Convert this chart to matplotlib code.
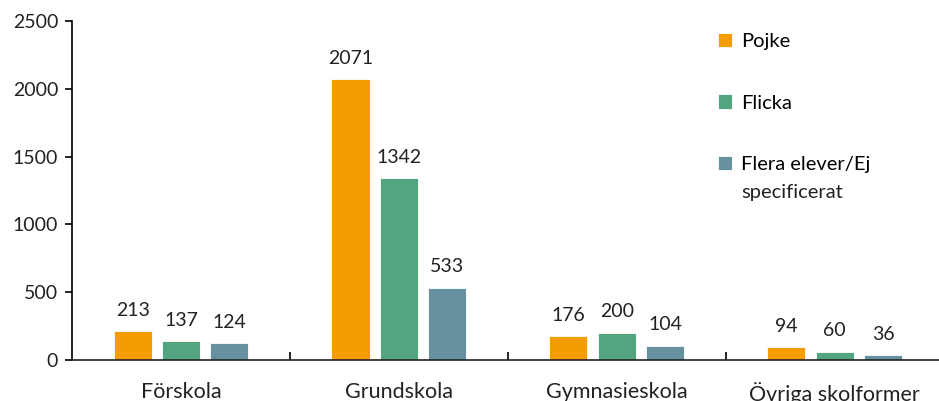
import numpy as np
import matplotlib.pyplot as plt

plt.rcParams['font.family'] = ['Lato', 'DejaVu Sans']

# Data
kategorier = ['Förskola', 'Grundskola', 'Gymnasieskola', 'Övriga skolformer']
pojke = [213, 2071, 176, 94]
flicka = [137, 1342, 200, 60]
flera = [124, 533, 104, 36]
serier = ['Pojke', 'Flicka', 'Flera elever/Ej']
farger = ['#F59C00', '#52A57F', '#6891A0']

fig = plt.figure(figsize=(9.39, 4.01), dpi=100)
ax = fig.add_axes([72 / 939, 1 - 360 / 401, 1 - 72 / 939 + 0.005, (360 - 21) / 401])

x = np.arange(len(kategorier))
bredd = 0.175
steg = 0.222
for i, (vals, namn, farg) in enumerate(zip([pojke, flicka, flera], serier, farger)):
    pos = x + (i - 1) * steg
    ax.bar(pos, vals, bredd, color=farg, label=namn, edgecolor='white', linewidth=0.6)
    for p, v in zip(pos, vals):
        ax.annotate(str(v), (p, v), xytext=(0, 9), textcoords='offset points',
                    ha='center', va='bottom', fontsize=14, color='#222222')

ax.set_xlim(-0.5, 3.5)
ax.set_ylim(0, 2500)
ax.set_yticks(range(0, 2501, 500))
ax.set_xticks(x)
ax.set_xticklabels(kategorier, fontsize=15.5, color='#222222')
ax.set_xticks([0.5, 1.5, 2.5], minor=True)
ax.tick_params(axis='x', which='major', length=0, pad=16)
ax.tick_params(axis='x', which='minor', direction='in', length=6, width=1.2)
ax.tick_params(axis='y', direction='out', length=5, width=1.2, labelsize=14, labelcolor='#222222', pad=5)

for s in ['top', 'right']:
    ax.spines[s].set_visible(False)
ax.spines['left'].set_linewidth(1.2)
ax.spines['bottom'].set_linewidth(1.2)
ax.spines['bottom'].set_color('#222222')

leg = ax.legend(loc='upper left', bbox_to_anchor=(0.72, 1.018), frameon=False, fontsize=14.5,
                handlelength=0.7, handleheight=0.7, handletextpad=0.45, labelspacing=2.2)

# andra raden i sista legendposten, justerad under första raden
fig.canvas.draw()
bb = leg.get_texts()[2].get_window_extent()
x0, y0 = fig.transFigure.inverted().transform((bb.x0, bb.y0 - 28))
fig.text(x0, y0, 'specificerat', fontsize=14.5, color='#222222', ha='left', va='bottom')

plt.savefig('out.png', dpi=100)
